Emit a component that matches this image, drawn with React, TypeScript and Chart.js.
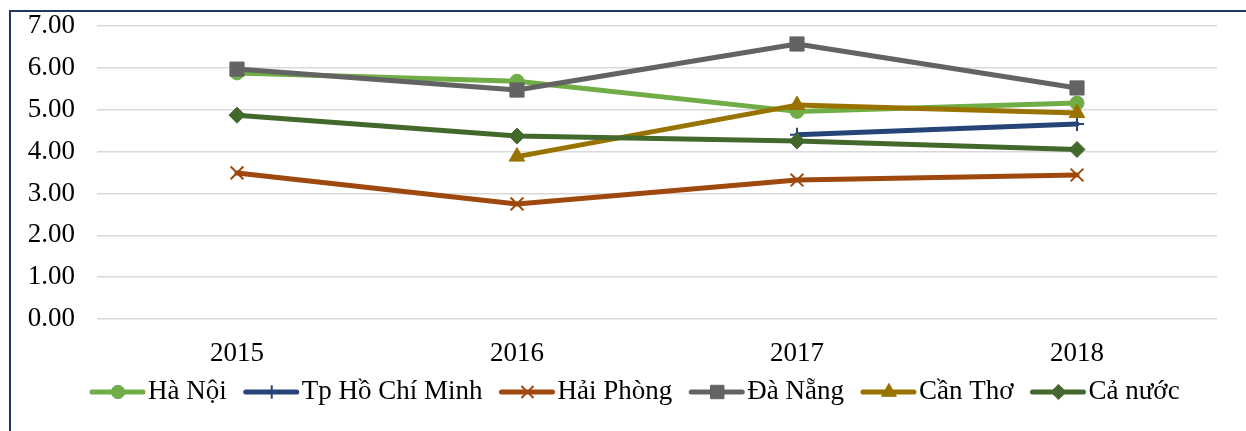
import React, { useEffect, useRef } from "react";
import { Chart, registerables } from "chart.js";
import { drawPoint } from "chart.js/helpers";

Chart.register(...registerables);

const years = ["2015", "2016", "2017", "2018"];
const haNoi = [5.88, 5.68, 4.96, 5.16];
const hcm = [null, null, 4.4, 4.66];
const haiPhong = [3.49, 2.75, 3.32, 3.44];
const daNang = [5.97, 5.47, 6.57, 5.52];
const canTho = [null, 3.88, 5.11, 4.92];
const caNuoc = [4.87, 4.37, 4.25, 4.05];

const seriesNames = ["Hà Nội", "Tp Hồ Chí Minh", "Hải Phòng", "Đà Nẵng", "Cần Thơ", "Cả nước"];
const seriesData = [haNoi, hcm, haiPhong, daNang, canTho, caNuoc];
const seriesColors = ["#70AD47", "#264478", "#9E480E", "#636363", "#997300", "#43682B"];
const seriesPoint = ["circle", "cross", "crossRot", "rect", "triangle", "rectRot"];
const seriesRadius = [7, 7, 9, 10, 9, 8];
const seriesPointBorder = [1, 2, 2, 1, 1, 1];
const yTicks = [0, 1, 2, 3, 4, 5, 6, 7];

const FONT = "'Liberation Serif', 'Times New Roman', serif";

const framePlugin = {
  id: "frame",
  beforeDraw(chart: any) {
    const ctx = chart.ctx;
    ctx.save();
    ctx.fillStyle = "#ffffff";
    ctx.fillRect(0, 0, chart.width, chart.height);
    ctx.strokeStyle = "#1F3864";
    ctx.lineWidth = 2;
    ctx.beginPath();
    ctx.moveTo(10, chart.height + 5);
    ctx.lineTo(10, 11);
    ctx.lineTo(chart.width + 5, 11);
    ctx.stroke();
    ctx.restore();
  },
};

const legendPlugin = {
  id: "customLegend",
  afterDraw(chart: any) {
    const ctx = chart.ctx;
    ctx.save();
    ctx.font = `27px ${FONT}`;
    ctx.textBaseline = "middle";
    ctx.textAlign = "left";
    let x = 90;
    const y = 392;
    for (let i = 0; i < seriesNames.length; i++) {
      const color = seriesColors[i];
      ctx.strokeStyle = color;
      ctx.fillStyle = color;
      ctx.lineWidth = 5;
      ctx.lineCap = "round";
      ctx.beginPath();
      ctx.moveTo(x + 2, y);
      ctx.lineTo(x + 53, y);
      ctx.stroke();
      ctx.lineCap = "butt";
      ctx.lineWidth = seriesPointBorder[i];
      drawPoint(
        ctx,
        {
          pointStyle: seriesPoint[i] as any,
          radius: seriesRadius[i] * 0.95,
          borderWidth: seriesPointBorder[i],
          rotation: 0,
        } as any,
        x + 28,
        y
      );
      ctx.fillStyle = "#000000";
      const tx = x + 58;
      ctx.fillText(seriesNames[i], tx, y);
      x = tx + ctx.measureText(seriesNames[i]).width + 17;
    }
    ctx.restore();
  },
};

export default function App() {
  const ref = useRef<HTMLCanvasElement>(null);
  useEffect(() => {
    if (!ref.current) return;
    const chart = new Chart(ref.current, {
      type: "line",
      data: {
        labels: years,
        datasets: seriesNames.map((name, i) => ({
          label: name,
          data: seriesData[i] as any,
          borderColor: seriesColors[i],
          backgroundColor: seriesColors[i],
          borderWidth: 5,
          borderJoinStyle: "round" as const,
          borderCapStyle: "round" as const,
          pointStyle: seriesPoint[i] as any,
          pointRadius: seriesRadius[i],
          pointBorderWidth: seriesPointBorder[i],
          pointBackgroundColor: seriesColors[i],
          pointBorderColor: seriesColors[i],
          spanGaps: false,
          order: seriesNames.length - i,
        })),
      },
      options: {
        responsive: false,
        animation: false,
        layout: { padding: { left: 0, top: 26, right: 29, bottom: 0 } },
        plugins: {
          legend: { display: false },
          tooltip: { enabled: false },
          title: { display: false },
        },
        scales: {
          x: {
            offset: true,
            grid: { display: false, drawTicks: false },
            border: { display: false },
            ticks: {
              color: "#000000",
              font: { family: FONT, size: 27 },
              padding: 19,
              maxRotation: 0,
            },
            afterFit(scale: any) {
              scale.height = 112;
              scale.paddingLeft = 0;
              scale.paddingRight = 0;
            },
          },
          y: {
            min: 0,
            max: 7,
            afterBuildTicks(scale: any) {
              scale.ticks = yTicks.map((v) => ({ value: v }));
            },
            grid: { color: "#D9D9D9", lineWidth: 1.5, drawTicks: false },
            border: { display: false },
            ticks: {
              color: "#000000",
              font: { family: FONT, size: 27 },
              padding: 22,
              callback: (v: any) => Number(v).toFixed(2),
            },
            afterFit(scale: any) {
              scale.width = 97;
              scale.paddingTop = 0;
              scale.paddingBottom = 0;
            },
          },
        },
      },
      plugins: [framePlugin, legendPlugin],
    });
    return () => chart.destroy();
  }, []);
  return (
    <div style={{ position: "absolute", left: 0, top: 0, width: 1246, height: 431 }}>
      <canvas ref={ref} width={1246} height={431} />
    </div>
  );
}
